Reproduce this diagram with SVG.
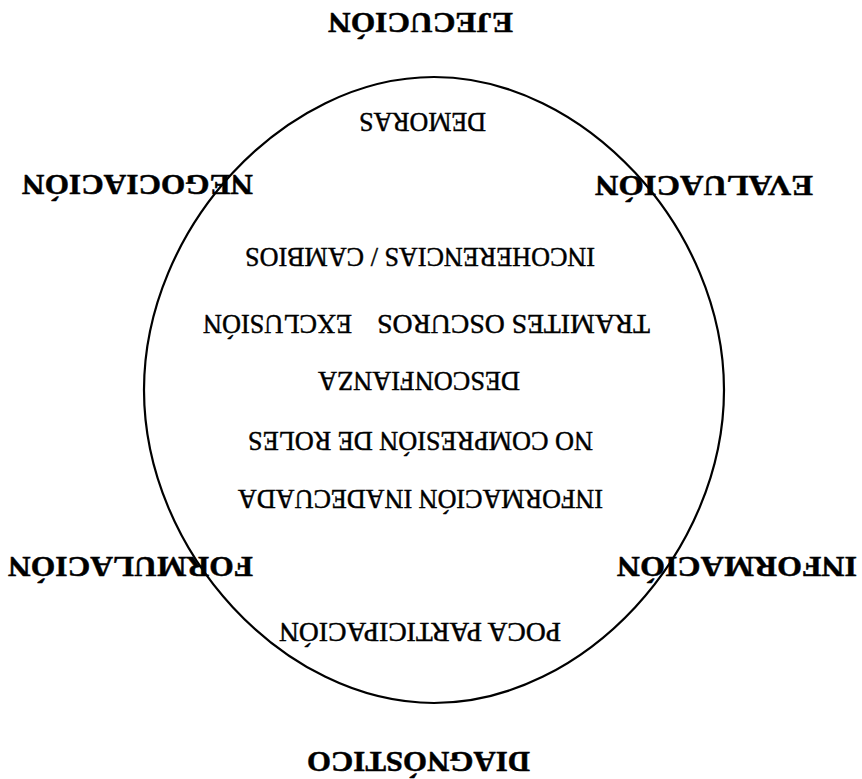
<svg xmlns="http://www.w3.org/2000/svg" width="862" height="779" viewBox="0 0 862 779">
<style>
.outer{font-family:"Liberation Serif","Times New Roman",serif;font-weight:bold;font-size:30px;fill:#000;stroke:#000;stroke-width:0.5;text-anchor:middle}
.inner{font-family:"Liberation Serif","Times New Roman",serif;font-size:27px;fill:#000;stroke:#000;stroke-width:0.45;text-anchor:middle}
.ring{fill:none;stroke:#000;stroke-width:2.2}
</style>
<rect width="862" height="779" fill="#fff"/>
<g id="connectors">
<path class="ring" d="M434,77 C583.9,77 724,228.2 724,390 C724,551.8 583.9,703 434,703 C284.1,703 144,551.8 144,390 C144,228.2 284.1,77 434,77 Z"/>
</g>
<g transform="rotate(180 431 389.5)">
<g id="ejecucion"><text class="outer" x="441.5" y="766" textLength="185" lengthAdjust="spacingAndGlyphs">EJECUCIÓN</text></g>
<g id="negociacion"><text class="outer" x="724.5" y="604" textLength="231" lengthAdjust="spacingAndGlyphs">NEGOCIACIÓN</text></g>
<g id="evaluacion"><text class="outer" x="158" y="603" textLength="218" lengthAdjust="spacingAndGlyphs">EVALUACIÓN</text></g>
<g id="formulacion"><text class="outer" x="731.5" y="222" textLength="245" lengthAdjust="spacingAndGlyphs">FORMULACIÓN</text></g>
<g id="informacion"><text class="outer" x="125" y="222" textLength="240" lengthAdjust="spacingAndGlyphs">INFORMACIÓN</text></g>
<g id="diagnostico"><text class="outer" x="443.5" y="27" textLength="223" lengthAdjust="spacingAndGlyphs">DIAGNÓSTICO</text></g>
<g id="demoras"><text class="inner" x="439.5" y="666" textLength="127" lengthAdjust="spacingAndGlyphs">DEMORAS</text></g>
<g id="incoherencias"><text class="inner" x="442" y="531" textLength="350" lengthAdjust="spacingAndGlyphs">INCOHERENCIAS / CAMBIOS</text></g>
<g id="tramites"><text class="inner" x="348.5" y="464" textLength="273" lengthAdjust="spacingAndGlyphs">TRAMITES OSCUROS</text></g>
<g id="exclusion"><text class="inner" x="584.5" y="464" textLength="149" lengthAdjust="spacingAndGlyphs">EXCLUSIÓN</text></g>
<g id="desconfianza"><text class="inner" x="443" y="407" textLength="202" lengthAdjust="spacingAndGlyphs">DESCONFIANZA</text></g>
<g id="roles"><text class="inner" x="441.5" y="347" textLength="345" lengthAdjust="spacingAndGlyphs">NO COMPRESIÓN DE ROLES</text></g>
<g id="inadecuada"><text class="inner" x="441.5" y="289" textLength="365" lengthAdjust="spacingAndGlyphs">INFORMACIÓN INADECUADA</text></g>
<g id="participacion"><text class="inner" x="442" y="156" textLength="282" lengthAdjust="spacingAndGlyphs">POCA PARTICIPACIÓN</text></g>
</g>
</svg>
